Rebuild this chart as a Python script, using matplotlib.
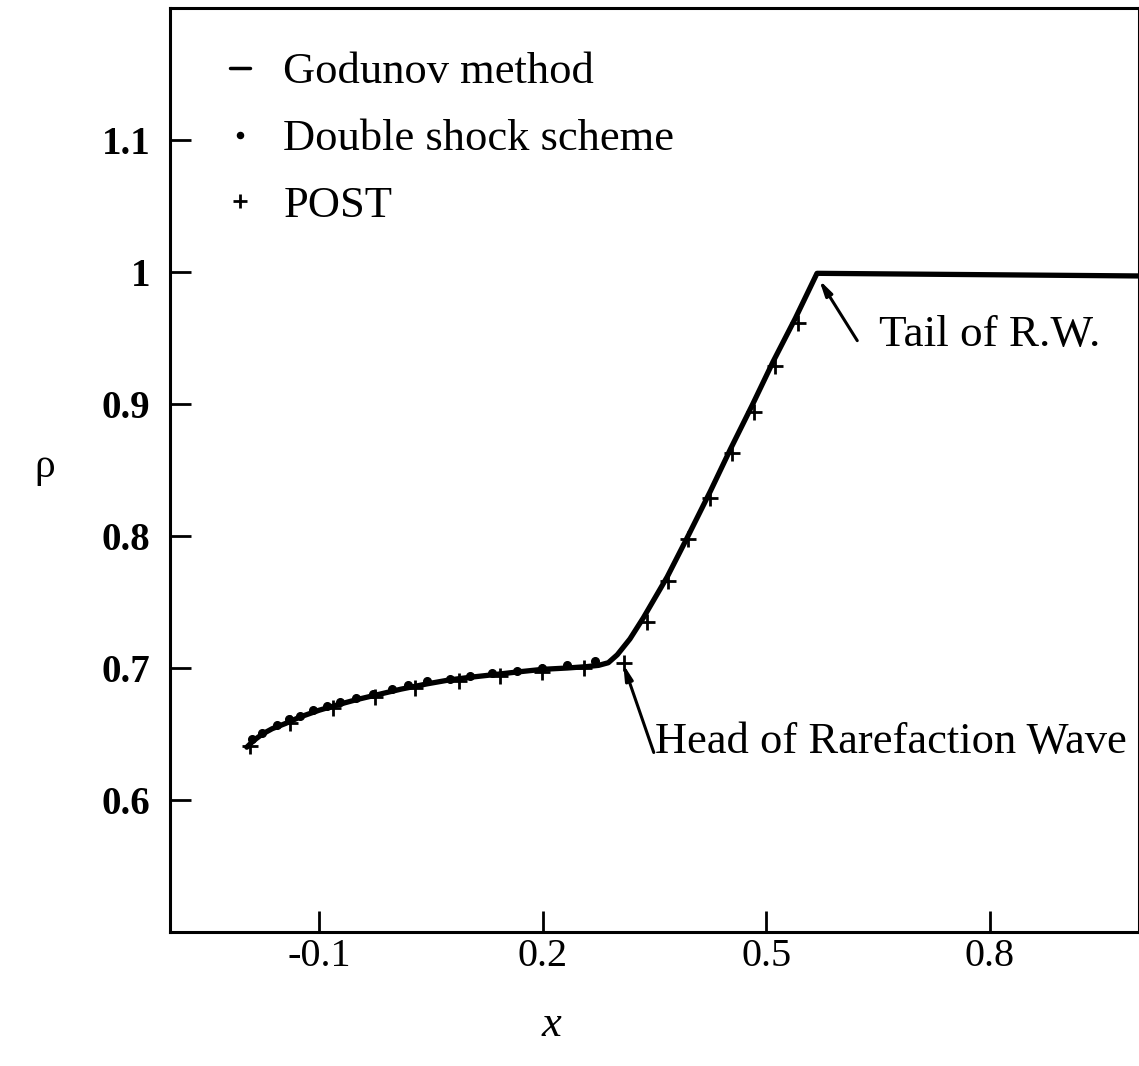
import numpy as np
import matplotlib.pyplot as plt

plt.rcParams['font.family'] = ['Liberation Serif', 'DejaVu Serif']

# Godunov solution (solid line)
godunov_x = [-0.197, -0.188, -0.176, -0.163, -0.145, -0.125, -0.100, -0.076, -0.050,
             -0.020, 0.010, 0.045, 0.075, 0.103, 0.135, 0.166, 0.200, 0.233, 0.258,
             0.275, 0.288, 0.300, 0.317, 0.335, 0.367, 0.395, 0.425, 0.452, 0.481,
             0.509, 0.539, 0.568, 1.000]
godunov_rho = [0.640, 0.645, 0.650, 0.654, 0.658, 0.663, 0.668, 0.672, 0.676,
               0.680, 0.684, 0.688, 0.691, 0.693, 0.695, 0.697, 0.699, 0.700, 0.701,
               0.702, 0.704, 0.710, 0.722, 0.738, 0.769, 0.800, 0.834, 0.866, 0.899,
               0.932, 0.965, 0.999, 0.997]

# double shock scheme (dots)
dshock_x = [-0.190, -0.177, -0.156, -0.140, -0.126, -0.108, -0.089, -0.072, -0.050,
            -0.028, -0.002, 0.019, 0.045, 0.076, 0.103, 0.132, 0.166, 0.199, 0.233,
            0.270]
dshock_rho = [0.646, 0.651, 0.657, 0.661, 0.664, 0.668, 0.671, 0.674, 0.677,
              0.680, 0.684, 0.687, 0.690, 0.692, 0.694, 0.696, 0.698, 0.700, 0.702,
              0.705]

# POST results (plus signs)
post_x = [-0.193, -0.139, -0.081, -0.025, 0.029, 0.087, 0.143, 0.199, 0.256, 0.309,
          0.340, 0.368, 0.395, 0.425, 0.454, 0.483, 0.512, 0.543]
post_rho = [0.641, 0.658, 0.670, 0.678, 0.685, 0.690, 0.694, 0.697, 0.700, 0.704,
            0.735, 0.766, 0.798, 0.829, 0.863, 0.894, 0.929, 0.961]

xtick_vals = [-0.1, 0.2, 0.5, 0.8]
xtick_labels = ['-0.1', '0.2', '0.5', '0.8']
ytick_vals = [0.6, 0.7, 0.8, 0.9, 1.0, 1.1]
ytick_labels = ['0.6', '0.7', '0.8', '0.9', '1', '1.1']

head_tip = (0.308, 0.703)
head_tail = (0.349, 0.636)
tail_tip = (0.571, 0.994)
tail_tail = (0.622, 0.948)

fig = plt.figure(figsize=(11.39, 10.66), dpi=100)
ax = fig.add_axes([0.1493, 0.1257, 0.8507, 0.8668])

ax.plot(godunov_x, godunov_rho, 'k-', lw=3.8, solid_capstyle='round',
        label='Godunov method')
ax.plot(dshock_x, dshock_rho, 'k.', ms=11, label='Double shock scheme')
ax.plot(post_x, post_rho, 'k+', ms=12, mew=2, label='POST')

ax.set_xlim(-0.3, 1.0)
ax.set_ylim(0.5, 1.2)
ax.set_xticks(xtick_vals)
ax.set_xticklabels(xtick_labels, fontsize=29)
ax.set_yticks(ytick_vals)
ax.set_yticklabels(ytick_labels, fontsize=28, fontweight='bold')
ax.tick_params(axis='both', direction='in', length=15, width=2)
ax.tick_params(axis='y', pad=14)
ax.tick_params(axis='x', pad=4)
ax.tick_params(top=False, right=False)
for s in ax.spines.values():
    s.set_linewidth(2.2)

arrow = dict(arrowstyle='-|>,head_length=0.9,head_width=0.22', lw=2.2,
             color='k', shrinkA=0, shrinkB=0)
ax.annotate('', xy=head_tip, xytext=head_tail, arrowprops=arrow)
ax.annotate('', xy=tail_tip, xytext=tail_tail, arrowprops=arrow)
ax.text(0.351, 0.644, 'Head of Rarefaction Wave', fontsize=32, va='center', ha='left')
ax.text(0.651, 0.952, 'Tail of R.W.', fontsize=32.5, va='center', ha='left')

leg = ax.legend(loc='upper left', bbox_to_anchor=(0.062, 0.952), frameon=False,
                fontsize=32, handlelength=0.45, handletextpad=0.75,
                labelspacing=0.6, borderaxespad=0, borderpad=0, markerscale=0.8)
leg.get_lines()[0].set_linewidth(2.5)

fig.text(45 / 1139, 1 - 467 / 1066, 'ρ', fontsize=30, ha='center', va='center')
fig.text(551 / 1139, 1 - 1025 / 1066, 'x', fontsize=32, style='italic',
         ha='center', va='center')

fig.savefig('out.png', dpi=100)
